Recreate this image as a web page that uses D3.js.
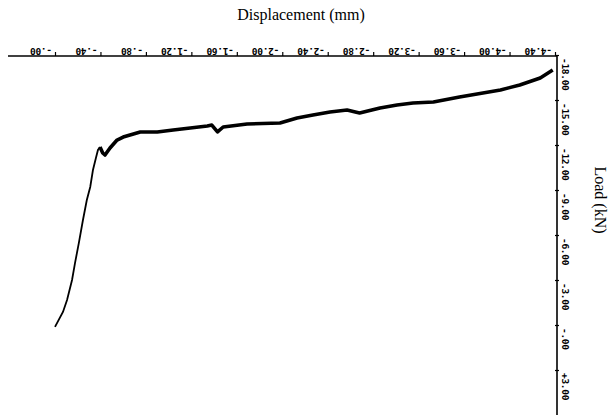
<!DOCTYPE html>
<html>
<head>
<meta charset="utf-8">
<script src="https://cdn.jsdelivr.net/npm/d3@7"></script>
<style>
  body { margin: 0; background: #fff; }
  .tickLabel { font-family: "DejaVu Sans Mono", monospace; font-weight: bold; font-size: 9.5px; fill: #000; letter-spacing: -0.3px; }
  .axisTitle { font-family: "Liberation Serif", "Times New Roman", serif; font-size: 16px; fill: #000; }
</style>
</head>
<body>
<div id="chart"></div>
<script>
// load vs displacement curve, the plot is turned round:
// displacement runs along the top (labels upside down), load down the right side

// displacement (mm)
var displacement = [0.00, -0.07, -0.106, -0.15, -0.176, -0.21, -0.246, -0.28, -0.31, -0.334,
  -0.36, -0.378, -0.396, -0.42, -0.44, -0.484, -0.546, -0.60, -0.66, -0.75,
  -0.90, -1.04, -1.19, -1.34, -1.38, -1.43, -1.48, -1.69, -1.98, -2.13,
  -2.27, -2.42, -2.57, -2.68, -2.86, -3.01, -3.15, -3.33, -3.56, -3.92,
  -4.09, -4.27, -4.38];

// load (kN) at each point
var load = [0.13, -0.87, -1.67, -3.0, -4.13, -5.47, -7.0, -8.33, -9.2, -10.33,
  -11.13, -11.67, -11.87, -11.47, -11.33, -11.8, -12.33, -12.53, -12.67, -12.87,
  -12.87, -13.0, -13.13, -13.27, -13.33, -12.87, -13.2, -13.4, -13.47, -13.8,
  -14.0, -14.2, -14.33, -14.13, -14.47, -14.67, -14.8, -14.87, -15.2, -15.67,
  -16.0, -16.47, -17.0];

// tick values + labels
var dispTicks = [0, -0.4, -0.8, -1.2, -1.6, -2.0, -2.4, -2.8, -3.2, -3.6, -4.0, -4.4];
var dispLabels = ["-.00", "-.40", "-.80", "-1.20", "-1.60", "-2.00", "-2.40", "-2.80", "-3.20", "-3.60", "-4.00", "-4.40"];
var loadTicks = [-18, -15, -12, -9, -6, -3, 0, 3];
var loadLabels = ["-18.00", "-15.00", "-12.00", "-9.00", "-6.00", "-3.00", "-.00", "+3.00"];

var svgWidth = 609;
var svgHeight = 418;

var svg = d3.select("#chart")
            .append("svg")
            .attr("width", svgWidth)
            .attr("height", svgHeight);

// scales (pixel spots from the reference)
var xScale = d3.scaleLinear()
  .domain([0, -4.4])
  .range([55, 555]);

var yScale = d3.scaleLinear()
  .domain([-18, 3])
  .range([55, 370]);

var axisX = 557;   // right axis line
var axisY = 56;    // top axis line

// top axis: line + small ticks, custom upside down labels
var topAxis = d3.axisTop(xScale)
  .tickValues(dispTicks)
  .tickSize(4)
  .tickFormat("");

var xAxisGroup = svg.append("g")
  .attr("transform", `translate(0, ${axisY})`)
  .call(topAxis);

xAxisGroup.select(".domain").remove();
xAxisGroup.selectAll("line").attr("stroke", "#000").attr("stroke-width", 1.2);

svg.append("line")
  .attr("x1", 8)
  .attr("x2", axisX)
  .attr("y1", axisY)
  .attr("y2", axisY)
  .attr("stroke", "#000")
  .attr("stroke-width", 1.6);

svg.selectAll(".xLab")
  .data(dispTicks)
  .enter()
  .append("text")
  .attr("class", "tickLabel xLab")
  .attr("transform", d => `translate(${xScale(d) - 3}, ${axisY - 8}) rotate(180)`)
  .text((d, i) => dispLabels[i]);

// right axis: "+" style ticks crossing the line
var rightAxis = d3.axisRight(yScale)
  .tickValues(loadTicks)
  .tickSizeInner(4)
  .tickSizeOuter(0)
  .tickFormat("");

var yAxisGroup = svg.append("g")
  .attr("transform", `translate(${axisX - 2}, 0)`)
  .call(rightAxis);

yAxisGroup.select(".domain").remove();
yAxisGroup.selectAll("line").attr("stroke", "#000").attr("stroke-width", 1.2);

svg.append("line")
  .attr("x1", axisX)
  .attr("x2", axisX)
  .attr("y1", axisY)
  .attr("y2", 415)
  .attr("stroke", "#000")
  .attr("stroke-width", 1.6);

svg.selectAll(".yLab")
  .data(loadTicks)
  .enter()
  .append("text")
  .attr("class", "tickLabel yLab")
  .attr("transform", d => `translate(${axisX + 5}, ${yScale(d) + 3}) rotate(90)`)
  .text((d, i) => loadLabels[i]);

// axis titles
svg.append("text")
  .attr("class", "axisTitle")
  .attr("x", 301)
  .attr("y", 20)
  .attr("text-anchor", "middle")
  .text("Displacement (mm)");

svg.append("text")
  .attr("class", "axisTitle")
  .attr("transform", "translate(595, 200) rotate(90)")
  .attr("text-anchor", "middle")
  .text("Load (kN)");

// the curve: thin on the rise, thicker noisy band after yield
var points = displacement.map((d, i) => [d, load[i]]);

var line = d3.line()
  .x(d => xScale(d[0]))
  .y(d => yScale(d[1]));

svg.append("path")
  .datum(points.slice(0, 13))
  .attr("d", line)
  .attr("fill", "none")
  .attr("stroke", "#000")
  .attr("stroke-width", 1.8);

svg.append("path")
  .datum(points.slice(12))
  .attr("d", line)
  .attr("fill", "none")
  .attr("stroke", "#000")
  .attr("stroke-width", 3.6)
  .attr("stroke-linejoin", "round");
</script>
</body>
</html>
